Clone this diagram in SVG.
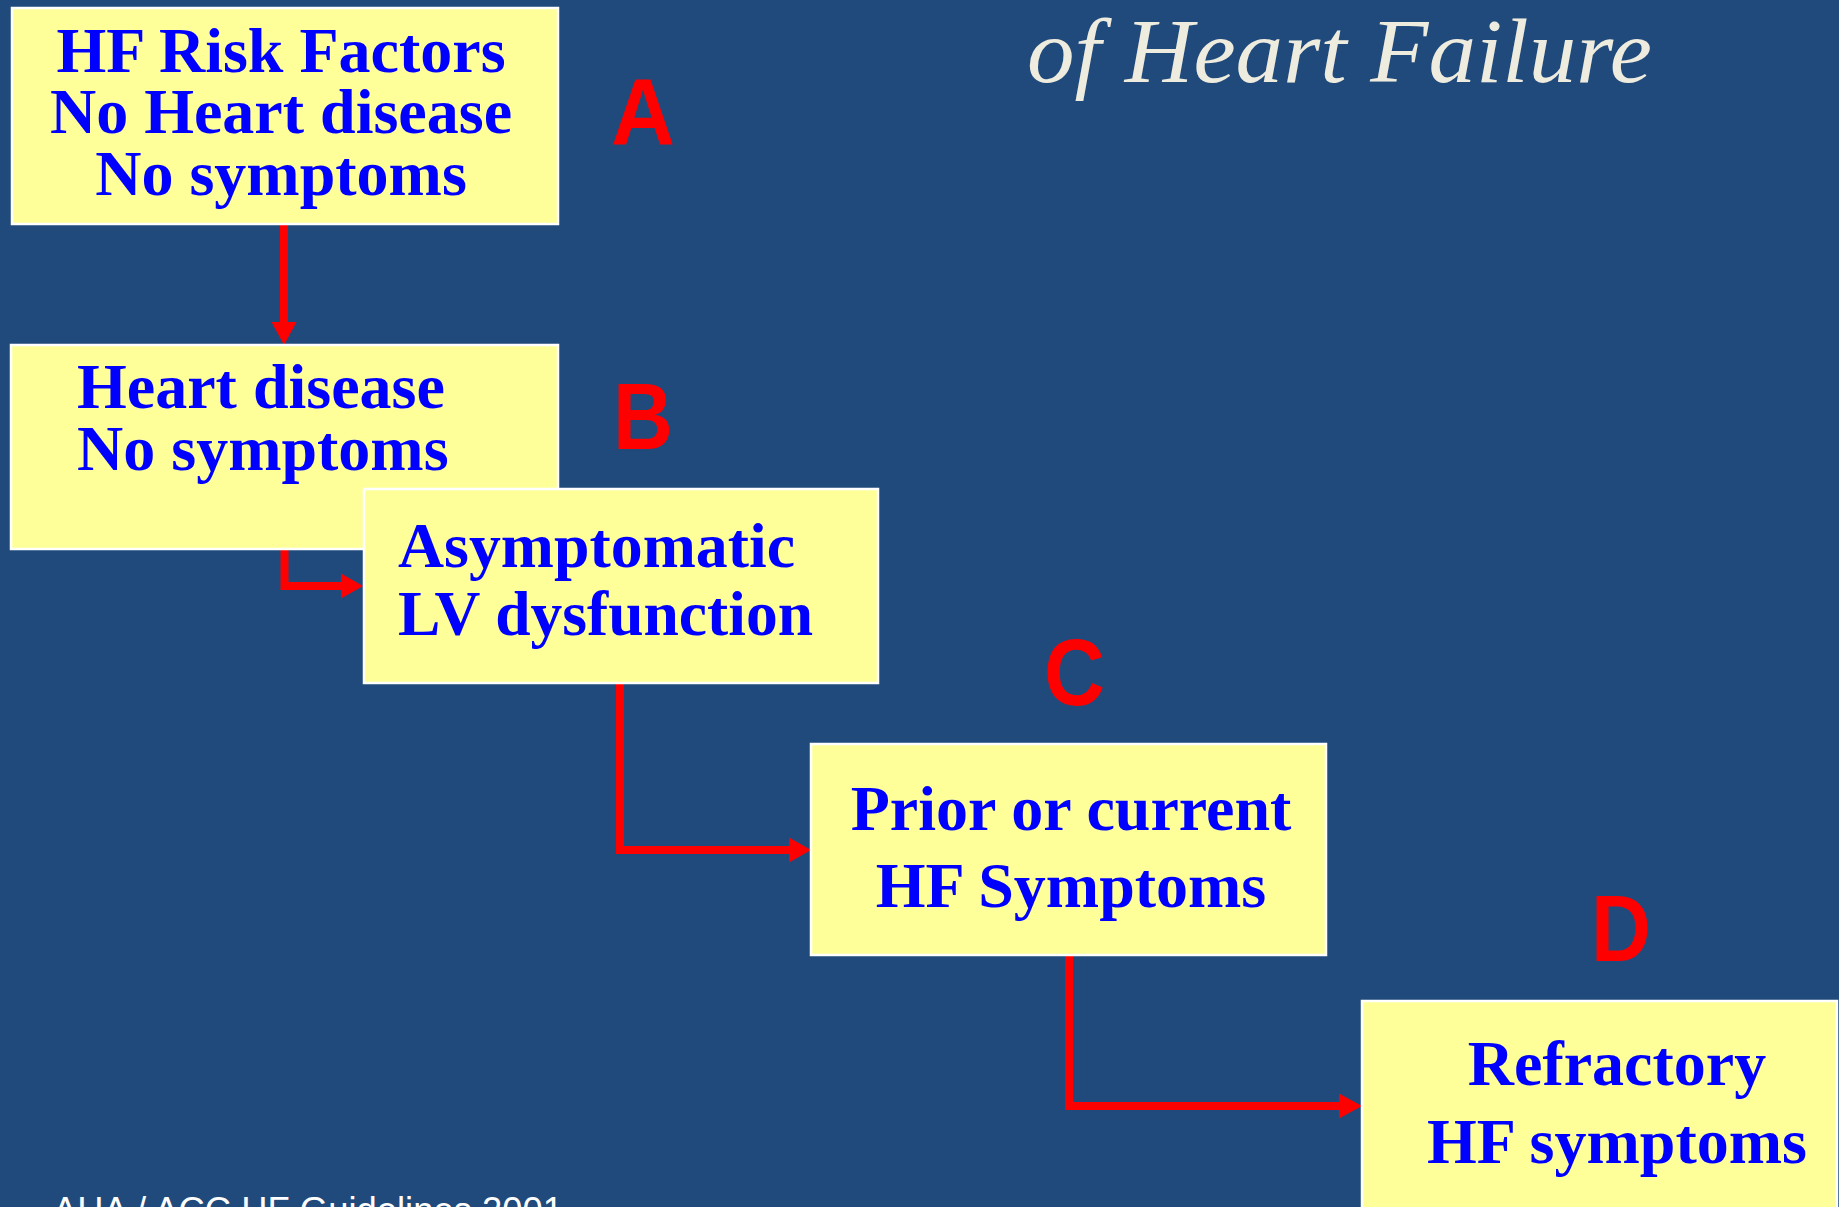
<svg xmlns="http://www.w3.org/2000/svg" width="1839" height="1207" viewBox="0 0 1839 1207">
  <style>
    .box { fill: #FFFF99; stroke: #FFFFFF; stroke-width: 2.5; }
    .t { font-family: "Liberation Serif", "Times New Roman", serif; font-weight: bold; font-size: 64px; fill: #0000FF; }
    .lbl { font-family: "Liberation Sans", Arial, sans-serif; font-weight: bold; font-size: 94px; fill: #FF0000; }
    .conn { fill: none; stroke: #FF0000; stroke-width: 8; stroke-linejoin: miter; }
  </style>
  <rect x="0" y="0" width="1839" height="1207" fill="#204A7B"/>

  <text x="1027" y="82" font-family="Liberation Serif, 'Times New Roman', serif" font-style="italic" font-size="92" fill="#EEEBDF" textLength="625" lengthAdjust="spacingAndGlyphs">of Heart Failure</text>

  <g id="connectors">
    <path class="conn" d="M284,224 L284,323"/>
    <path d="M271.5,322 L284,345 L296.5,322 Z" fill="#FF0000"/>
    <path class="conn" d="M284.5,549 L284.5,586 L342,586"/>
    <path d="M341,573.5 L363,586 L341,598.5 Z" fill="#FF0000"/>
    <path class="conn" d="M620,683 L620,850 L790,850"/>
    <path d="M789,837.5 L811,850 L789,862.5 Z" fill="#FF0000"/>
    <path class="conn" d="M1069,955 L1069,1106 L1340,1106"/>
    <path d="M1339,1093.5 L1362,1106 L1339,1118.5 Z" fill="#FF0000"/>
  </g>

  <g id="nodeA">
    <rect class="box" x="12" y="8" width="546" height="216"/>
    <text class="t" x="281" y="72" text-anchor="middle">HF Risk Factors</text>
    <text class="t" x="281" y="133" text-anchor="middle">No Heart disease</text>
    <text class="t" x="281" y="195" text-anchor="middle">No symptoms</text>
  </g>
  <text id="labelA" class="lbl" x="611" y="145" textLength="64" lengthAdjust="spacingAndGlyphs">A</text>

  <g id="nodeB">
    <rect class="box" x="11" y="345" width="547" height="204"/>
    <text class="t" x="77" y="408">Heart disease</text>
    <text class="t" x="77" y="470">No symptoms</text>
  </g>
  <text id="labelB" class="lbl" x="613" y="449" textLength="60" lengthAdjust="spacingAndGlyphs">B</text>

  <g id="nodeLV">
    <rect class="box" x="364" y="489" width="514" height="194"/>
    <text class="t" x="398" y="567" font-size="68" textLength="397" lengthAdjust="spacingAndGlyphs">Asymptomatic</text>
    <text class="t" x="398" y="635" font-size="68" textLength="415" lengthAdjust="spacingAndGlyphs">LV dysfunction</text>
  </g>

  <text id="labelC" class="lbl" x="1044" y="705" textLength="61" lengthAdjust="spacingAndGlyphs">C</text>
  <g id="nodeC">
    <rect class="box" x="811" y="744" width="515" height="211"/>
    <text class="t" x="1071" y="830" text-anchor="middle">Prior or current</text>
    <text class="t" x="1071" y="907" text-anchor="middle">HF Symptoms</text>
  </g>

  <text id="labelD" class="lbl" x="1591" y="961" textLength="60" lengthAdjust="spacingAndGlyphs">D</text>
  <g id="nodeD">
    <rect class="box" x="1362" y="1001" width="475" height="230"/>
    <text class="t" x="1617" y="1085" text-anchor="middle">Refractory</text>
    <text class="t" x="1617" y="1163" text-anchor="middle">HF symptoms</text>
  </g>

  <text x="53" y="1223" font-family="Liberation Sans, Arial, sans-serif" font-size="37" fill="#FFFFFF" textLength="510" lengthAdjust="spacingAndGlyphs">AHA / ACC HF Guidelines 2001</text>
</svg>
